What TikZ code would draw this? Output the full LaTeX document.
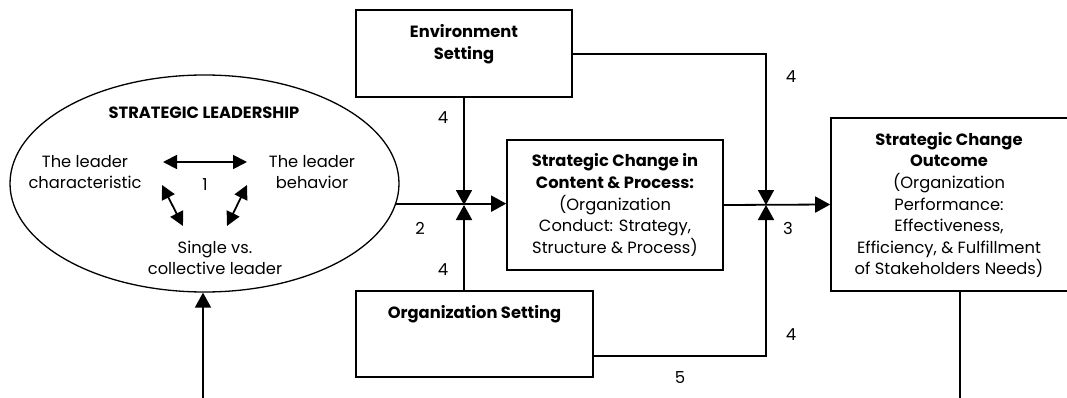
\documentclass[tikz,border=0pt]{standalone}
\usepackage{fontspec}
\setmainfont{Poppins}
\usetikzlibrary{arrows.meta,shapes.geometric}
\begin{document}
\begin{tikzpicture}[x=1pt,y=-1pt,
  box/.style={draw,line width=1.6pt,inner sep=0pt},
  conn/.style={line width=1.8pt},
  arr/.style={conn,-{Triangle[length=15pt,width=16pt]}},
  darr/.style={conn,{Triangle[length=14pt,width=14pt]}-{Triangle[length=14pt,width=14pt]}},
  txt/.style={align=center,inner sep=0pt,font=\fontsize{16.3}{21.6}\selectfont},
  btxt/.style={txt,font=\fontsize{16.3}{21.6}\selectfont\bfseries},
  num/.style={inner sep=0pt,font=\fontsize{16.5}{18}\selectfont}
]
\useasboundingbox (0,0) rectangle (1067,398);

% shapes
\node[draw,line width=1.3pt,ellipse,minimum width=389pt,minimum height=217pt,inner sep=0pt] (ell) at (204.5,183.5) {};
\node[box,minimum width=216pt,minimum height=87pt] (env) at (464,53.5) {};
\node[box,minimum width=216pt,minimum height=130pt] (sc) at (615,205) {};
\node[box,minimum width=237pt,minimum height=86pt] (org) at (474.5,334) {};
\node[box,minimum width=238pt,minimum height=173pt] (out) at (950,204.5) {};

% texts
\node[btxt] (envt) at (464,44) {Environment\\Setting};
\node[txt] (sct) at (615,205) {\textbf{Strategic Change in}\\\textbf{Content \& Process:}\\(Organization\\Conduct: Strategy,\\Structure \& Process)};
\node[btxt] (orgt) at (474.5,314) {Organization Setting};
\node[txt] (outt) at (949,205) {\textbf{Strategic Change}\\\textbf{Outcome}\\(Organization\\Performance:\\Effectiveness,\\Efficiency, \& Fulfillment\\of Stakeholders Needs)};

\node[btxt] (slt) at (204,113) {STRATEGIC LEADERSHIP};
\node[txt] (tl) at (85,172) {The leader\\characteristic};
\node[txt] (tr) at (312,172) {The leader\\behavior};
\node[txt] (bot) at (215,258) {Single vs.\\collective leader};
\node[num] (n1) at (205,185) {1};

% inner arrows
\coordinate (a1) at (163,162);
\coordinate (a2) at (247,162);
\coordinate (b1) at (162,185);
\coordinate (b2) at (183,226);
\coordinate (c1) at (247,185);
\coordinate (c2) at (227,226);
\draw[darr] (a1) -- (a2);
\draw[darr] (b1) -- (b2);
\draw[darr] (c1) -- (c2);

% junctions
\coordinate (j1) at (464,205);
\coordinate (j2) at (766,205);
\coordinate (eb) at (203,398);
\coordinate (ob) at (960,398);

\draw[arr] (ell.-6.4) -- (ell.-6.4 -| sc.west);
\draw[arr] (env.south) -- (j1);
\draw[arr] (j1 |- org.north) -- (j1);
\draw[arr] (sc.east) -- (out.west);
\draw[arr] ([yshift=-0.5pt]env.east) -| (j2);
\draw[arr] ([yshift=22pt]org.south east) -| (j2);
\draw[conn] (ob |- out.south) -- (ob);
\draw[arr] (eb) -- (eb |- ell.south);

% numbers
\node[num] (n2) at (420,228) {2};
\node[num] (n4a) at (443,118) {4};
\node[num] (n4b) at (443,270) {4};
\node[num] (n4c) at (791,77) {4};
\node[num] (n3) at (788,228) {3};
\node[num] (n4d) at (791,335) {4};
\node[num] (n5) at (680,378) {5};
\end{tikzpicture}
\end{document}
